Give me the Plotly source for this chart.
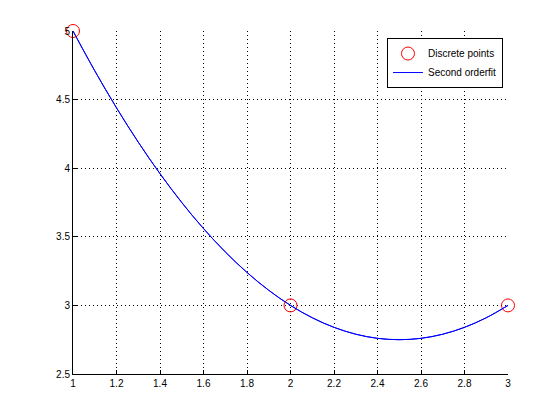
import plotly.graph_objects as go

# Discrete points
pts_x = [1, 2, 3]
pts_y = [5, 3, 3]

# Second order fit curve
fit_x = [1.0, 1.1, 1.2, 1.3, 1.4, 1.5, 1.6, 1.7, 1.8, 1.9, 2.0,
         2.1, 2.2, 2.3, 2.4, 2.5, 2.6, 2.7, 2.8, 2.9, 3.0]
fit_y = [5.0, 4.71, 4.44, 4.19, 3.96, 3.75, 3.56, 3.39, 3.24, 3.11, 3.0,
         2.91, 2.84, 2.79, 2.76, 2.75, 2.76, 2.79, 2.84, 2.91, 3.0]

fig = go.Figure()
fig.add_trace(go.Scatter(x=fit_x, y=fit_y, mode="lines", name="Second orderfit",
                         line=dict(color="#0000ff", width=1, shape="spline"),
                         cliponaxis=False, showlegend=False))
fig.add_trace(go.Scatter(x=pts_x, y=pts_y, mode="markers", name="Discrete points",
                         marker=dict(symbol="circle-open", size=13, color="#ff0000",
                                     line=dict(width=1, color="#ff0000")),
                         cliponaxis=False))
fig.add_trace(go.Scatter(x=fit_x, y=fit_y, mode="lines", name="Second orderfit",
                         line=dict(color="#0000ff", width=1, shape="spline"),
                         cliponaxis=False))

axis_common = dict(showline=True, linecolor="black", linewidth=1,
                   ticks="inside", ticklen=4, tickcolor="black",
                   showgrid=True, gridcolor="black", griddash="1px,3px", gridwidth=1,
                   zeroline=False, mirror=False,
                   tickfont=dict(family="Liberation Sans, Arial", size=10, color="black"))

fig.update_layout(
    width=560, height=420,
    margin=dict(l=65, r=60, t=23, b=54),
    paper_bgcolor="white", plot_bgcolor="white",
    xaxis=dict(range=[1, 3], dtick=0.2, tick0=1, **axis_common),
    yaxis=dict(range=[2.5, 5], dtick=0.5, tick0=2.5, **axis_common),
    legend=dict(x=0.9885, y=0.9795, xanchor="right", yanchor="top",
                bgcolor="white", bordercolor="black", borderwidth=1,
                font=dict(family="Liberation Sans, Arial", size=10, color="black"),
                tracegroupgap=0, itemwidth=30),
    showlegend=True,
)

fig.write_html("out.html")
